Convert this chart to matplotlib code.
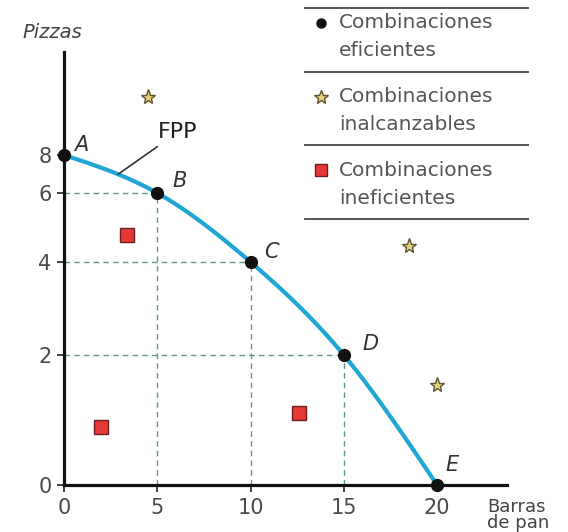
import numpy as np
import matplotlib
matplotlib.use("Agg")
import matplotlib.pyplot as plt
from matplotlib.lines import Line2D

# puntos de la FPP
labels_fpp = ["A", "B", "C", "D", "E"]
barras_fpp = [0, 5, 10, 15, 20]
pizzas_fpp = [8, 6, 4, 2, 0]

# combinaciones inalcanzables (estrellas)
barras_inal = [4.5, 18.5, 20.0]
pizzas_inal = [11.8, 4.4, 1.5]

# combinaciones ineficientes (cuadrados)
barras_inef = [3.4, 2.0, 12.6]
pizzas_inef = [4.7, 0.85, 1.05]

x_ticks = [0, 5, 10, 15, 20]
y_ticks = [0, 2, 4, 6, 8]

# the pizza axis in the picture is not evenly spaced: height (px) of each tick
y_tick_px = np.array([0, 130, 223, 292, 330], dtype=float)
y_nodes = np.array(y_ticks, dtype=float)

# natural cubic spline through (y_nodes, y_tick_px)
n = len(y_nodes)
h = np.diff(y_nodes)
A = np.zeros((n, n))
r = np.zeros(n)
A[0, 0] = A[-1, -1] = 1
for i in range(1, n - 1):
    A[i, i - 1] = h[i - 1]
    A[i, i] = 2 * (h[i - 1] + h[i])
    A[i, i + 1] = h[i]
    r[i] = 6 * ((y_tick_px[i + 1] - y_tick_px[i]) / h[i]
                - (y_tick_px[i] - y_tick_px[i - 1]) / h[i - 1])
M = np.linalg.solve(A, r)
slope_lo = (y_tick_px[1] - y_tick_px[0]) / h[0] - h[0] * (2 * M[0] + M[1]) / 6
slope_hi = (y_tick_px[-1] - y_tick_px[-2]) / h[-1] + h[-1] * (2 * M[-1] + M[-2]) / 6


def fwd(y):
    y = np.asarray(y, dtype=float)
    out = np.empty_like(y)
    lo = y < y_nodes[0]
    hi = y > y_nodes[-1]
    mid = ~(lo | hi)
    out[lo] = y_tick_px[0] + slope_lo * (y[lo] - y_nodes[0])
    out[hi] = y_tick_px[-1] + slope_hi * (y[hi] - y_nodes[-1])
    ym = y[mid]
    k = np.clip(np.searchsorted(y_nodes, ym, side="right") - 1, 0, n - 2)
    hk = h[k]
    a = y_nodes[k + 1] - ym
    b = ym - y_nodes[k]
    out[mid] = (M[k] * a**3 / (6 * hk) + M[k + 1] * b**3 / (6 * hk)
                + (y_tick_px[k] / hk - M[k] * hk / 6) * a
                + (y_tick_px[k + 1] / hk - M[k + 1] * hk / 6) * b)
    return out


_grid = np.linspace(-60, 80, 28001)
_grid_px = fwd(_grid)


def inv(d):
    return np.interp(np.asarray(d, dtype=float), _grid_px, _grid)


W, H = 568, 532
fig = plt.figure(figsize=(W / 100, H / 100), dpi=100)
x0_px, xaxis_px, top_px, right_px = 64, 485, 52, 507
ax = fig.add_axes([x0_px / W, (H - xaxis_px) / H,
                   (right_px - x0_px) / W, (xaxis_px - top_px) / H])
ax.set_yscale("function", functions=(fwd, inv))
px_per_x = (436.6 - 63.5) / 20
ax.set_xlim(0, (right_px - x0_px) / px_per_x)
ax.set_ylim(0, inv(xaxis_px - top_px))

for s in ["top", "right"]:
    ax.spines[s].set_visible(False)
for s in ["left", "bottom"]:
    ax.spines[s].set_linewidth(2.3)
    ax.spines[s].set_color("#111111")

ax.set_xticks(x_ticks)
ax.set_yticks(y_ticks)
ax.tick_params(direction="out", length=5, width=1.2, colors="#222222",
               labelsize=15, labelcolor="#4a4a4a", pad=4)

guide = "#5f9c7c"
for bx, py in zip(barras_fpp[1:-1], pizzas_fpp[1:-1]):
    ax.plot([0, bx], [py, py], color=guide, lw=1.0, ls=(0, (4, 3)), zorder=1)
    ax.plot([bx, bx], [0, py], color=guide, lw=1.0, ls=(0, (4, 3)), zorder=1)

# dense path so that the line bends with the uneven pizza scale
xs = np.linspace(barras_fpp[0], barras_fpp[-1], 300)
ys = np.interp(xs, barras_fpp, pizzas_fpp)
ax.plot(xs, ys, color="#1fa6d4", lw=3.0, solid_capstyle="butt", zorder=3)

ax.plot(barras_fpp, pizzas_fpp, "o", color="#111111", ms=8.5, zorder=5,
        clip_on=False)
offsets = {"A": (17, 10), "B": (22, 12), "C": (21, 10), "D": (27, 11), "E": (15, 20)}
for lab, bx, py in zip(labels_fpp, barras_fpp, pizzas_fpp):
    ax.annotate(lab, (bx, py), xytext=offsets[lab], textcoords="offset pixels",
                ha="center", va="center", fontsize=15, style="italic",
                color="#333333")

ax.plot(barras_inal, pizzas_inal, "*", ms=11, mfc="#e6cf7c", mec="#5e5530",
        mew=1.0, ls="none", zorder=4, clip_on=False)
ax.plot(barras_inef, pizzas_inef, "s", ms=9.5, mfc="#e53935", mec="#6b1f1f",
        mew=1.0, ls="none", zorder=4)

fpp_x = 2.9
ax.annotate("FPP", (fpp_x, np.interp(fpp_x, barras_fpp, pizzas_fpp)),
            xytext=(40, 42), textcoords="offset pixels", ha="left", va="center",
            fontsize=16, color="#222222",
            arrowprops=dict(arrowstyle="-", color="#333333", lw=1.2,
                            shrinkA=2, shrinkB=0))

fig.text(52 / W, 1 - 33 / H, "Pizzas", ha="center", va="center", fontsize=14,
         style="italic", color="#444444")
fig.text(487 / W, 1 - 515 / H, "Barras\nde pan", ha="left", va="center",
         fontsize=13, color="#444444", linespacing=0.9)

# leyenda
for yp in [8, 72, 145, 219]:
    fig.add_artist(Line2D([305 / W, 528 / W], [1 - yp / H, 1 - yp / H],
                          color="#555555", lw=1.4))
legend_rows = [
    ("o", dict(ms=6.5, color="#111111"), 21, "Combinaciones\neficientes"),
    ("*", dict(ms=10, mfc="#e6cf7c", mec="#5e5530", mew=1.0), 95, "Combinaciones\ninalcanzables"),
    ("s", dict(ms=8.5, mfc="#e53935", mec="#6b1f1f", mew=1.0), 168, "Combinaciones\nineficientes"),
]
for mk, style, yp, txt in legend_rows:
    fig.add_artist(Line2D([321 / W], [1 - (yp + 2) / H], marker=mk, ls="none", **style))
    fig.text(339 / W, 1 - (yp + 16) / H, txt, ha="left", va="center",
             fontsize=14.5, color="#555555", linespacing=1.6)

fig.savefig("out.png", dpi=100)
